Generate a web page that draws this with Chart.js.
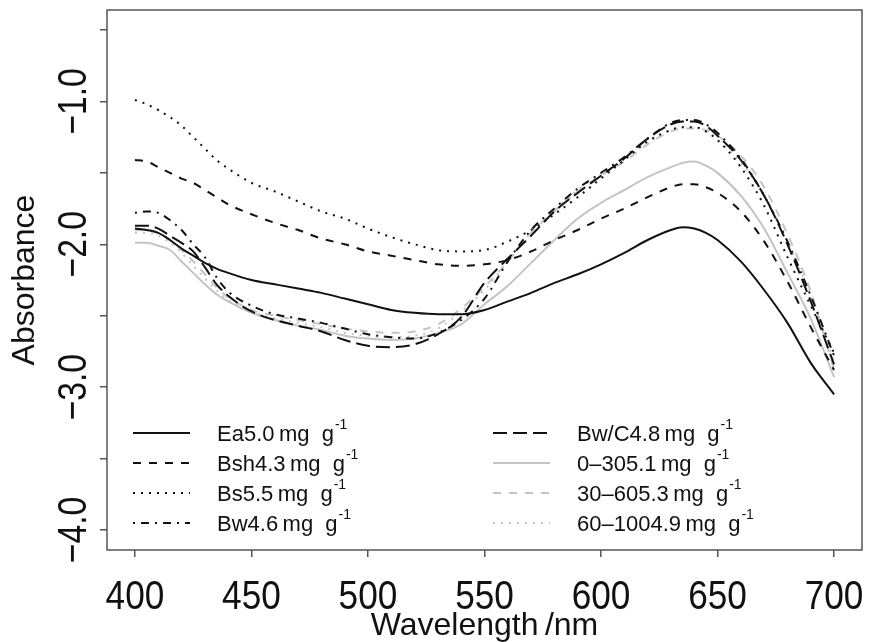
<!DOCTYPE html>
<html>
<head>
<meta charset="utf-8">
<script src="https://cdn.jsdelivr.net/npm/chart.js@4.4.1/dist/chart.umd.min.js"></script>
<style>
  html, body { margin: 0; padding: 0; background: #fff; }
  #spectra { display: block; }
</style>
</head>
<body>
<canvas id="spectra" width="869" height="642"></canvas>
<script>
/* ── data ───────────────────────────────────────────────── */
const wavelengths = [400, 405, 410, 415, 420, 425, 430, 435, 440, 450, 460, 470, 480, 490, 500,
                     510, 520, 530, 540, 550, 560, 570, 580, 590, 600, 610, 620, 630, 635, 640,
                     645, 650, 660, 670, 680, 690, 700];

const ea    = [-1.89, -1.90, -1.92, -1.97, -2.03, -2.08, -2.13, -2.17, -2.20, -2.25, -2.28, -2.31, -2.34, -2.38, -2.42,
               -2.46, -2.48, -2.49, -2.49, -2.46, -2.40, -2.34, -2.27, -2.21, -2.14, -2.06, -1.97, -1.90, -1.88, -1.89,
               -1.92, -1.97, -2.12, -2.32, -2.55, -2.83, -3.05];
const bsh   = [-1.41, -1.42, -1.46, -1.50, -1.54, -1.57, -1.62, -1.67, -1.72, -1.79, -1.85, -1.90, -1.96, -2.00, -2.05,
               -2.08, -2.11, -2.14, -2.15, -2.14, -2.11, -2.05, -1.97, -1.90, -1.82, -1.75, -1.67, -1.60, -1.58, -1.58,
               -1.60, -1.64, -1.77, -1.98, -2.26, -2.58, -2.88];
const bs    = [-0.99, -1.02, -1.06, -1.11, -1.17, -1.25, -1.33, -1.41, -1.47, -1.57, -1.63, -1.70, -1.77, -1.82, -1.89,
               -1.95, -2.00, -2.04, -2.05, -2.04, -1.98, -1.90, -1.79, -1.67, -1.54, -1.41, -1.28, -1.20, -1.18, -1.18,
               -1.21, -1.27, -1.46, -1.73, -2.09, -2.43, -2.76];
const bw    = [-1.78, -1.77, -1.78, -1.83, -1.90, -2.00, -2.09, -2.23, -2.33, -2.43, -2.49, -2.52, -2.55, -2.59, -2.63,
               -2.65, -2.66, -2.62, -2.53, -2.38, -2.12, -1.90, -1.75, -1.61, -1.50, -1.39, -1.26, -1.15, -1.13, -1.13,
               -1.16, -1.22, -1.40, -1.66, -1.98, -2.36, -2.78];
const bwc   = [-1.87, -1.87, -1.89, -1.94, -1.99, -2.05, -2.16, -2.28, -2.36, -2.47, -2.53, -2.57, -2.61, -2.67, -2.71,
               -2.72, -2.70, -2.63, -2.51, -2.27, -2.10, -1.94, -1.77, -1.64, -1.52, -1.40, -1.26, -1.16, -1.14, -1.14,
               -1.17, -1.24, -1.41, -1.66, -2.00, -2.40, -2.84];
const d0_30   = [-1.99, -1.99, -2.01, -2.04, -2.12, -2.20, -2.28, -2.35, -2.40, -2.48, -2.53, -2.57, -2.60, -2.64, -2.66,
                 -2.67, -2.66, -2.62, -2.56, -2.42, -2.29, -2.13, -1.97, -1.82, -1.71, -1.62, -1.53, -1.46, -1.43, -1.42,
                 -1.45, -1.50, -1.66, -1.89, -2.20, -2.52, -2.93];
const d30_60  = [-1.90, -1.90, -1.92, -1.97, -2.04, -2.12, -2.21, -2.30, -2.37, -2.46, -2.50, -2.53, -2.56, -2.59, -2.61,
                 -2.62, -2.61, -2.56, -2.45, -2.30, -2.12, -1.92, -1.77, -1.63, -1.52, -1.42, -1.30, -1.21, -1.19, -1.19,
                 -1.20, -1.24, -1.38, -1.60, -1.93, -2.33, -2.88];
const d60_100 = [-1.92, -1.92, -1.94, -1.99, -2.06, -2.15, -2.24, -2.32, -2.39, -2.47, -2.52, -2.55, -2.58, -2.62, -2.64,
                 -2.65, -2.64, -2.59, -2.47, -2.32, -2.12, -1.92, -1.76, -1.62, -1.51, -1.40, -1.29, -1.20, -1.18, -1.18,
                 -1.21, -1.27, -1.43, -1.66, -1.98, -2.36, -2.82];

const horizons = ['Ea', 'Bsh', 'Bs', 'Bw', 'Bw/C', '0\u201330', '30\u201360', '60\u2013100'];
const contents = ['5.0', '4.3', '5.5', '4.6', '4.8', '5.1', '5.3', '4.9'];
const seriesValues = [ea, bsh, bs, bw, bwc, d0_30, d30_60, d60_100];

const xTicks = [400, 450, 500, 550, 600, 650, 700];
const xTickLabels = ['400', '450', '500', '550', '600', '650', '700'];
const yTicks = [-4.0, -3.5, -3.0, -2.5, -2.0, -1.5, -1.0, -0.5];
const yTickLabels = ['\u22124.0', '', '\u22123.0', '', '\u22122.0', '', '\u22121.0', ''];

/* ── styling ─────────────────────────────────────────────── */
const FONT  = '"Liberation Sans", Arial, Helvetica, sans-serif';
const BLACK = '#111111';
const GREY  = '#c4c4c4';
const FRAME = '#555555';

const DASHED   = [8, 8];
const DOTTED   = [2, 6];
const DOTDASH  = [2, 6, 8, 6];
const LONGDASH = [14, 6];

const lineColors = [BLACK, BLACK, BLACK, BLACK, BLACK, GREY, GREY, GREY];
const lineDashes = [[], DASHED, DOTTED, DOTDASH, LONGDASH, [], DASHED, DOTTED];

const datasets = seriesValues.map((vals, i) => ({
    label: horizons[i],
    data: wavelengths.map((w, k) => ({ x: w, y: vals[k] })),
    borderColor: lineColors[i],
    borderDash: lineDashes[i],
    borderWidth: 2,
    pointRadius: 0,
    fill: false,
    cubicInterpolationMode: 'monotone',
}));

/* tall, narrow text like the original Helvetica-style labels */
function condensedText(ctx, text, x, y, angle, sx) {
    ctx.save();
    ctx.translate(x, y);
    ctx.rotate(angle);
    ctx.scale(sx, 1);
    ctx.fillText(text, 0, 0);
    ctx.restore();
}

/* ── plugins: frame, tick labels, inset legend ───────────── */
const framePlugin = {
    id: 'frame',
    afterDraw(chart) {
        const { ctx, chartArea: a } = chart;
        ctx.save();
        ctx.strokeStyle = FRAME;
        ctx.lineWidth = 1.5;
        ctx.strokeRect(a.left, a.top, a.right - a.left, a.bottom - a.top);
        ctx.restore();
    },
};

const tickLabelPlugin = {
    id: 'tickLabels',
    afterDraw(chart) {
        const { ctx } = chart;
        const xs = chart.scales.x;
        const ys = chart.scales.y;
        ctx.save();
        ctx.fillStyle = BLACK;
        ctx.textAlign = 'center';
        ctx.textBaseline = 'middle';
        ctx.font = `40px ${FONT}`;
        xTicks.forEach((v, i) => {
            condensedText(ctx, xTickLabels[i], xs.getPixelForValue(v), xs.top + 48, 0, 0.88);
        });
        ctx.font = `41px ${FONT}`;
        yTicks.forEach((v, i) => {
            if (!yTickLabels[i]) return;
            condensedText(ctx, yTickLabels[i], ys.right - 32, ys.getPixelForValue(v), -Math.PI / 2, 0.82);
        });
        ctx.restore();
    },
};

const legendPlugin = {
    id: 'insetLegend',
    afterDatasetsDraw(chart) {
        const { ctx, chartArea: a } = chart;
        const cols = [
            { x0: a.left + 26, x1: a.left + 83, tx: a.left + 110 },
            { x0: a.left + 386, x1: a.left + 443, tx: a.left + 470 },
        ];
        const rows = [a.bottom - 117, a.bottom - 87, a.bottom - 57, a.bottom - 27];
        chart.data.datasets.forEach((ds, i) => {
            const c = cols[Math.floor(i / 4)];
            const y = rows[i % 4];
            ctx.save();
            ctx.strokeStyle = ds.borderColor;
            ctx.lineWidth = ds.borderWidth;
            ctx.setLineDash(ds.borderDash);
            ctx.beginPath();
            ctx.moveTo(c.x0, y);
            ctx.lineTo(c.x1, y);
            ctx.stroke();
            ctx.setLineDash([]);
            ctx.fillStyle = BLACK;
            ctx.textAlign = 'left';
            ctx.textBaseline = 'middle';
            ctx.font = `22px ${FONT}`;
            const main = `${horizons[i]}${contents[i]}\u2009mg  g`;
            ctx.fillText(main, c.tx, y + 2);
            const w = ctx.measureText(main).width;
            ctx.font = `14px ${FONT}`;
            ctx.fillText('-1', c.tx + w + 1, y - 8);
            ctx.restore();
        });
    },
};

/* ── chart ───────────────────────────────────────────────── */
new Chart(document.getElementById('spectra'), {
    type: 'line',
    data: { datasets },
    options: {
        responsive: false,
        animation: false,
        layout: { padding: { left: 0, top: 10, right: 7, bottom: 0 } },
        plugins: {
            legend: { display: false },
            tooltip: { enabled: false },
        },
        scales: {
            x: {
                type: 'linear',
                min: 388,
                max: 712,
                afterBuildTicks: s => { s.ticks = xTicks.map(v => ({ value: v })); },
                afterFit: s => { s.height = 92; },
                border: { display: false },
                grid: { drawOnChartArea: false, drawTicks: true, tickLength: 7, color: FRAME, lineWidth: 1.5 },
                ticks: { display: false },
                title: {
                    display: true,
                    text: 'Wavelength\u2009/nm',
                    color: BLACK,
                    font: { family: FONT, size: 32, lineHeight: 1 },
                    padding: { top: 0, bottom: 0 },
                },
            },
            y: {
                type: 'linear',
                min: -4.14,
                max: -0.36,
                afterBuildTicks: s => { s.ticks = yTicks.map(v => ({ value: v })); },
                afterFit: s => { s.width = 107; },
                border: { display: false },
                grid: { drawOnChartArea: false, drawTicks: true, tickLength: 7, color: FRAME, lineWidth: 1.5 },
                ticks: { display: false },
                title: {
                    display: true,
                    text: 'Absorbance',
                    color: BLACK,
                    font: { family: FONT, size: 32, lineHeight: 1 },
                    padding: { top: 9, bottom: 0 },
                },
            },
        },
    },
    plugins: [framePlugin, tickLabelPlugin, legendPlugin],
});
</script>
</body>
</html>
